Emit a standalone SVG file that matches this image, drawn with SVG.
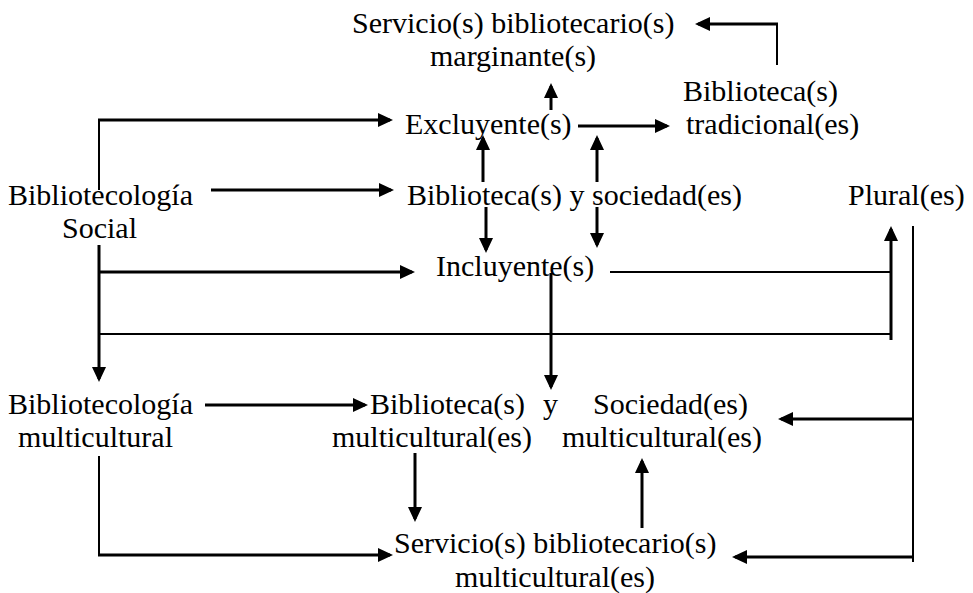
<svg xmlns="http://www.w3.org/2000/svg" width="973" height="593" viewBox="0 0 973 593">
<style>
text{font-family:"Liberation Serif","Times New Roman",serif;font-size:30px;fill:#000}
.k{stroke:#000;stroke-width:3;fill:none}
.t{stroke:#000;stroke-width:2;fill:none}
</style>
<defs>
<marker id="a" viewBox="0 0 15 14" refX="12" refY="7" markerWidth="15" markerHeight="14" markerUnits="userSpaceOnUse" orient="auto">
<path d="M0,0 L15,7 L0,14 z" fill="#000"/>
</marker>
</defs>
<rect width="973" height="593" fill="#fff"/>
<g id="connectors">
<path class="t" d="M99,190 V119"/>
<path class="k" d="M98,120 H390" marker-end="url(#a)"/>
<path class="k" d="M211,190 H391" marker-end="url(#a)"/>
<path class="k" d="M99,245 V379" marker-end="url(#a)"/>
<path class="k" d="M99,272 H412" marker-end="url(#a)"/>
<path class="t" d="M99,334 H891"/>
<path class="k" d="M891,340 V229" marker-end="url(#a)"/>
<path class="t" d="M610,272 H891"/>
<path class="t" d="M913,226 V562"/>
<path class="k" d="M913,419 H781" marker-end="url(#a)"/>
<path class="k" d="M913,557 H735" marker-end="url(#a)"/>
<path class="k" d="M551,273 V387" marker-end="url(#a)"/>
<path class="k" d="M205,405 H365" marker-end="url(#a)"/>
<path class="t" d="M99,456 V556"/>
<path class="k" d="M98,555 H390" marker-end="url(#a)"/>
<path class="k" d="M415,453 V519" marker-end="url(#a)"/>
<path class="k" d="M642,528 V461" marker-end="url(#a)"/>
<path class="t" d="M777,65 V23"/>
<path class="k" d="M778,24 H698" marker-end="url(#a)"/>
<path class="k" d="M551,110 V86" marker-end="url(#a)"/>
<path class="k" d="M578,126 H667" marker-end="url(#a)"/>
<path class="k" d="M483,182 V138" marker-end="url(#a)"/>
<path class="k" d="M597,182 V138" marker-end="url(#a)"/>
<path class="k" d="M486,207 V250" marker-end="url(#a)"/>
<path class="k" d="M597,207 V245" marker-end="url(#a)"/>
</g>
<g id="servicio-marginante"><text x="352" y="33">Servicio(s) bibliotecario(s)</text><text x="430" y="66">marginante(s)</text></g>
<g id="biblioteca-tradicional"><text x="683" y="101">Biblioteca(s)</text><text x="686" y="134">tradicional(es)</text></g>
<g id="excluyente"><text x="405" y="134">Excluyente(s)</text></g>
<g id="bibliotecologia-social"><text x="8" y="205">Bibliotecología</text><text x="62" y="238">Social</text></g>
<g id="biblioteca-sociedad"><text x="407" y="205">Biblioteca(s) y sociedad(es)</text></g>
<g id="plural"><text x="848" y="205">Plural(es)</text></g>
<g id="incluyente"><text x="436" y="276">Incluyente(s)</text></g>
<g id="bibliotecologia-multicultural"><text x="8" y="414">Bibliotecología</text><text x="18" y="447">multicultural</text></g>
<g id="biblioteca-multicultural"><text x="370" y="414">Biblioteca(s)</text><text x="332" y="447">multicultural(es)</text></g>
<g id="y"><text x="543" y="414">y</text></g>
<g id="sociedad-multicultural"><text x="593" y="414">Sociedad(es)</text><text x="562" y="447">multicultural(es)</text></g>
<g id="servicio-multicultural"><text x="394" y="553">Servicio(s) bibliotecario(s)</text><text x="455" y="587">multicultural(es)</text></g>
</svg>
